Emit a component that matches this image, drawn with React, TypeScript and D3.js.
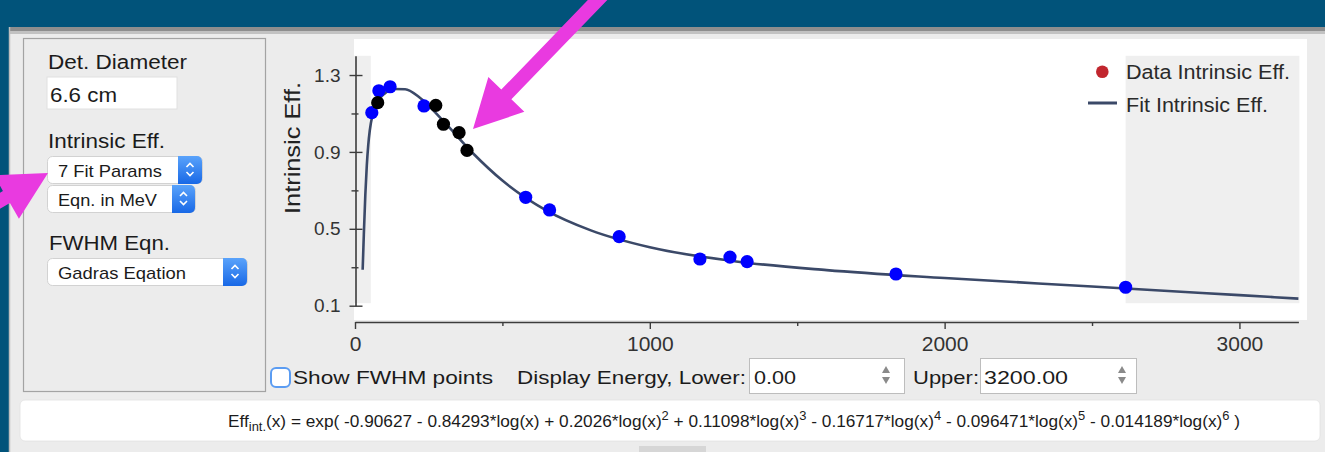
import React, { useEffect, useRef } from "react";
import * as d3 from "d3";

// ---------- data ----------
const blueEnergies = [57, 81, 119, 234, 579, 660, 896, 1170, 1272, 1330, 1835, 2614];
const blueEffs = [1.104, 1.218, 1.239, 1.139, 0.664, 0.598, 0.459, 0.343, 0.353, 0.329, 0.265, 0.196];
const blackEnergies = [77, 274, 300, 353, 380];
const blackEffs = [1.156, 1.142, 1.044, 1.0, 0.908];
const fitEnergies = [26, 28, 30, 35, 40, 45, 50, 60, 80, 100, 130, 170, 220, 300, 400, 500, 650, 800, 1000, 1300, 1600, 2000, 2500, 3000, 3200];
const fitEffs = [0.287, 0.38, 0.472, 0.676, 0.829, 0.937, 1.01, 1.096, 1.169, 1.203, 1.227, 1.226, 1.182, 1.06, 0.893, 0.751, 0.595, 0.492, 0.404, 0.329, 0.285, 0.244, 0.2, 0.155, 0.137];
const xDomain = [0, 3200];
const yDomain = [0.1, 1.4];
const xTicksMajor = [0, 1000, 2000, 3000];
const xTicksMinor = [500, 1500, 2500];
const yTicksMajor = [0.1, 0.5, 0.9, 1.3];
const yTicksMinor = [0.3, 0.7, 1.1];
const legendLabels = ["Data Intrinsic Eff.", "Fit Intrinsic Eff."];
const yAxisLabel = "Intrinsic Eff.";
const fitCoefs = [-0.90627, -0.84293, 0.2026, 0.11098, -0.16717, -0.096471, -0.014189];

const FONT = "'Liberation Sans', Arial, Helvetica, sans-serif";

const x = d3.scaleLinear().domain(xDomain).range([355, 1298.4]);
const y = d3.scaleLinear().domain(yDomain).range([305.7, 55.8]);

function T({ x, y, w, size, children, anchor, fill, transform }: any) {
  return (
    <text
      x={x}
      y={y}
      fontSize={size}
      textLength={w}
      lengthAdjust="spacingAndGlyphs"
      textAnchor={anchor || "start"}
      fill={fill || "#1b1b1b"}
      transform={transform}
    >
      {children}
    </text>
  );
}

function Select({ x, y, w, h, btnW, label, tw }: any) {
  const bx = x + w - btnW;
  const cx = bx + btnW / 2;
  const cy = y + h / 2;
  return (
    <g>
      <rect x={x + 0.5} y={y + 0.5} width={w} height={h} rx={5} fill="#fff" stroke="#c9c9c9" strokeWidth={0.8} />
      <rect x={bx} y={y} width={btnW} height={h + 1} rx={5} fill="url(#btnGrad)" />
      <rect x={bx} y={y} width={6} height={h + 1} fill="url(#btnGrad)" />
      <path d={`M${cx - 3.5},${cy - 2.5} L${cx},${cy - 6} L${cx + 3.5},${cy - 2.5}`} fill="none" stroke="#fff" strokeWidth={1.6} />
      <path d={`M${cx - 3.5},${cy + 2.5} L${cx},${cy + 6} L${cx + 3.5},${cy + 2.5}`} fill="none" stroke="#fff" strokeWidth={1.6} />
      <T x={x + 11} y={y + 20.5} size={17} w={tw}>{label}</T>
    </g>
  );
}

function Spinner({ cx, cy }: any) {
  return (
    <g fill="#8a8a8a">
      <path d={`M${cx - 4},${cy - 2} L${cx},${cy - 9} L${cx + 4},${cy - 2} Z`} />
      <path d={`M${cx - 4},${cy + 2} L${cx},${cy + 9} L${cx + 4},${cy + 2} Z`} />
    </g>
  );
}

function arrowPath(tx: number, ty: number, angDeg: number, len: number, headLen: number, headW: number, shaftW: number) {
  const a = (angDeg * Math.PI) / 180;
  const ux = Math.cos(a), uy = -Math.sin(a); // from tip toward tail
  const nx = -uy, ny = ux;
  const bx = tx + ux * headLen, by = ty + uy * headLen;
  const ex = tx + ux * len, ey = ty + uy * len;
  const pts = [
    [tx, ty],
    [bx + nx * headW, by + ny * headW],
    [bx + nx * shaftW, by + ny * shaftW],
    [ex + nx * shaftW, ey + ny * shaftW],
    [ex - nx * shaftW, ey - ny * shaftW],
    [bx - nx * shaftW, by - ny * shaftW],
    [bx - nx * headW, by - ny * headW],
  ];
  return "M" + pts.map((p) => p.join(",")).join("L") + "Z";
}

export default function App() {
  const xAxisRef = useRef<SVGGElement>(null);
  const xMinorRef = useRef<SVGGElement>(null);
  const yAxisRef = useRef<SVGGElement>(null);
  const yMinorRef = useRef<SVGGElement>(null);

  useEffect(() => {
    const style = (g: any, size: number) => {
      g.selectAll("path.domain").attr("stroke", "#3c3c3c").attr("stroke-width", 1.6);
      g.selectAll(".tick line").attr("stroke", "#3c3c3c").attr("stroke-width", 1.4);
      g.selectAll(".tick text").attr("fill", "#333").attr("font-size", size).attr("font-family", FONT);
    };
    const gx = d3.select(xAxisRef.current!);
    gx.call(d3.axisBottom(x).tickValues(xTicksMajor).tickSize(7).tickSizeOuter(0).tickPadding(7).tickFormat(d3.format("d")) as any);
    style(gx, 21);
    const gxm = d3.select(xMinorRef.current!);
    gxm.call(d3.axisBottom(x).tickValues(xTicksMinor).tickSize(4).tickFormat(() => "") as any);
    gxm.select("path.domain").remove();
    style(gxm, 0);

    const gy = d3.select(yAxisRef.current!);
    gy.call(d3.axisLeft(y).tickValues(yTicksMajor).tickSize(7).tickSizeOuter(0).tickPadding(8).tickFormat(d3.format(".1f")) as any);
    style(gy, 19);
    gy.selectAll(".tick line").attr("x1", 7).attr("x2", -6);
    const gym = d3.select(yMinorRef.current!);
    gym.call(d3.axisLeft(y).tickValues(yTicksMinor).tickSize(4).tickFormat(() => "") as any);
    gym.select("path.domain").remove();
    style(gym, 0);
    gym.selectAll(".tick line").attr("x1", 3).attr("x2", -4);
  }, []);

  const fitData = fitEnergies.map((e, i) => [e, fitEffs[i]] as [number, number]);
  const line = d3
    .line<[number, number]>()
    .x((d) => x(d[0]))
    .y((d) => y(d[1]))
    .curve(d3.curveMonotoneX);

  const minE = Math.min(...blueEnergies, ...blackEnergies);
  const maxE = Math.max(...blueEnergies, ...blackEnergies);
  const bandTop = y(yDomain[1]);
  const bandBot = y(yDomain[0]) - 2.5;

  // formula pieces: each entry = baseline text + optional superscript
  const terms: { text: string; sup?: string }[] = [];
  fitCoefs.forEach((c, i) => {
    if (i === 0) terms.push({ text: `(x) = exp( ${c}` });
    else {
      const sign = c < 0 ? " - " : " + ";
      terms.push({ text: `${sign}${Math.abs(c)}*log(x)`, sup: i >= 2 ? String(i) : undefined });
    }
  });
  const spans: { text: string; dy: number; small: boolean }[] = [];
  let level = 4; // after subscript "int." we are 4px below baseline
  terms.forEach((t) => {
    spans.push({ text: t.text, dy: -level, small: false });
    level = 0;
    if (t.sup) {
      spans.push({ text: t.sup, dy: -7, small: true });
      level = -7;
    }
  });
  spans.push({ text: " )", dy: -level, small: false });

  return (
    <svg width={1325} height={452} style={{ position: "absolute", left: 0, top: 0 }} fontFamily={FONT}>
      <defs>
        <linearGradient id="btnGrad" x1="0" y1="0" x2="0" y2="1">
          <stop offset="0" stopColor="#5aa3fb" />
          <stop offset="1" stopColor="#1868e6" />
        </linearGradient>
        <filter id="soft" x="-20%" y="-20%" width="140%" height="140%">
          <feGaussianBlur stdDeviation="0.6" />
        </filter>
      </defs>

      {/* window chrome */}
      <rect x={0} y={0} width={1325} height={452} fill="#01537a" />
      <rect x={9} y={27} width={1316} height={425} fill="#ececec" />
      <rect x={9} y={27} width={1316} height={4} fill="#8e8e8e" />
      <rect x={9} y={31} width={1316} height={3} fill="#c2c2c2" />
      <line x1={9.5} y1={27} x2={9.5} y2={452} stroke="#bdbdbd" strokeWidth={1.5} />

      {/* left group box */}
      <rect x={23.5} y={38.5} width={242} height={353} fill="none" stroke="#a3a3a3" strokeWidth={1.2} />
      <T x={48} y={69} size={20} w={139}>Det. Diameter</T>
      <rect x={47} y={77} width={130} height={32} fill="#fff" stroke="#e0e0e0" />
      <T x={50} y={101.5} size={20} w={67}>6.6 cm</T>
      <T x={48} y={148} size={20} w={117}>Intrinsic Eff.</T>
      <Select x={47} y={156} w={155} h={27} btnW={24} label="7 Fit Params" tw={104} />
      <Select x={47} y={185} w={148} h={27} btnW={23} label="Eqn. in MeV" tw={99} />
      <T x={49} y={250} size={20} w={121}>FWHM Eqn.</T>
      <Select x={47} y={258} w={200} h={27} btnW={24} label="Gadras Eqation" tw={128} />

      {/* plot area */}
      <rect x={354} y={39} width={953} height={281} fill="#fff" />
      <rect x={x(xDomain[0]) - 1} y={bandTop} width={x(minE) - x(xDomain[0])} height={bandBot - bandTop} fill="#efefef" />
      <rect x={x(maxE)} y={bandTop} width={x(xDomain[1]) - x(maxE) + 1} height={bandBot - bandTop} fill="#efefef" />

      <g ref={yMinorRef} transform="translate(355.5,0)" />
      <g ref={yAxisRef} transform="translate(355.5,0)" />
      <g ref={xMinorRef} transform="translate(0,322)" />
      <g ref={xAxisRef} transform="translate(0,322)" />

      <T x={0} y={0} size={22} w={132} anchor="middle" fill="#222" transform="translate(300,148) rotate(-90)">
        {yAxisLabel}
      </T>

      <path d={line(fitData) || ""} fill="none" stroke="#3b4968" strokeWidth={2.6} />
      <g filter="url(#soft)">
        {blueEnergies.map((e, i) => (
          <circle key={"b" + i} cx={x(e)} cy={y(blueEffs[i])} r={6.6} fill="#0000ff" />
        ))}
        {blackEnergies.map((e, i) => (
          <circle key={"k" + i} cx={x(e)} cy={y(blackEffs[i])} r={6.6} fill="#000" />
        ))}
      </g>

      {/* legend */}
      <circle cx={1102.3} cy={71.7} r={6.3} fill="#c1272d" filter="url(#soft)" />
      <T x={1126} y={79} size={20} w={164} fill="#2a2a2a">{legendLabels[0]}</T>
      <line x1={1088} y1={103} x2={1117} y2={103} stroke="#3b4968" strokeWidth={3} />
      <T x={1126} y={111.5} size={20} w={142} fill="#2a2a2a">{legendLabels[1]}</T>

      {/* bottom controls */}
      <rect x={271} y={368} width={19} height={19} rx={5} fill="#fff" stroke="#5b9cf2" strokeWidth={2} />
      <T x={293} y={384} size={19} w={200}>Show FWHM points</T>
      <T x={517} y={384} size={19} w={229}>Display Energy, Lower:</T>
      <rect x={749.5} y={358.5} width={155} height={35} fill="#fff" stroke="#bdbdbd" />
      <T x={754} y={384} size={19} w={42}>0.00</T>
      <Spinner cx={886} cy={375} />
      <T x={913} y={384} size={19} w={66}>Upper:</T>
      <rect x={980.5} y={358.5} width={156} height={35} fill="#fff" stroke="#bdbdbd" />
      <T x={984} y={384} size={19} w={84}>3200.00</T>
      <Spinner cx={1122} cy={375} />

      {/* formula */}
      <rect x={20} y={400} width={1300} height={41} rx={5} fill="#fff" stroke="#e2e2e2" strokeWidth={0.8} />
      <text x={228} y={427} fontSize={16} fill="#1b1b1b" textLength={1012} lengthAdjust="spacingAndGlyphs" xmlSpace="preserve" style={{ whiteSpace: "pre" }}>
        <tspan>Eff</tspan>
        <tspan dy={4} fontSize={12}>int.</tspan>
        {spans.map((s, i) => (
          <tspan key={i} dy={s.dy} fontSize={s.small ? 12 : 16}>{s.text}</tspan>
        ))}
      </text>
      <rect x={639} y={446} width={67} height={6} fill="#d6d6d6" />

      {/* annotation arrows */}
      <path d={arrowPath(473, 129, 46, 200, 48, 25, 7)} fill="#e93ae0" />
      <path d={arrowPath(48, 173, 210, 150, 48, 25, 7)} fill="#e93ae0" />
    </svg>
  );
}
